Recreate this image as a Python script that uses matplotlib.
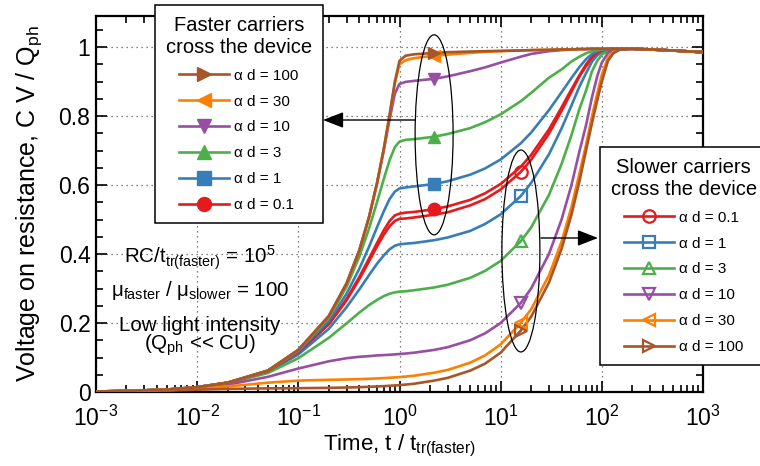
import matplotlib
matplotlib.use('Agg')
import matplotlib.pyplot as plt
from matplotlib.lines import Line2D
from matplotlib.patches import Ellipse, FancyArrowPatch
from matplotlib.ticker import MultipleLocator, FixedLocator, NullFormatter

plt.rcParams['font.family'] = ['Liberation Sans', 'DejaVu Sans']
plt.rcParams['mathtext.fontset'] = 'custom'
plt.rcParams['mathtext.rm'] = 'Liberation Sans'
plt.rcParams['mathtext.it'] = 'Liberation Sans:italic'
plt.rcParams['mathtext.bf'] = 'Liberation Sans:bold'

# ---------------- data ----------------
t = [0.001, 0.002, 0.005, 0.01, 0.02, 0.05, 0.1, 0.2, 0.3, 0.4, 0.5, 0.6, 0.7, 0.8, 0.9,
     1.0, 1.15, 1.4, 2.2, 3, 5, 7, 10, 15.8, 20, 30, 40, 50, 60, 70, 80, 90, 100, 115, 130,
     150, 200, 300, 500, 1000]

alpha_d = ['0.1', '1', '3', '10', '30', '100']

x_ticks = [1e-3, 1e-2, 1e-1, 1e0, 1e1, 1e2, 1e3]
x_ticklabels = ['10$^{-3}$', '10$^{-2}$', '10$^{-1}$', '10$^{0}$', '10$^{1}$', '10$^{2}$',
                '10$^{3}$']
y_ticks = [0, 0.2, 0.4, 0.6, 0.8, 1.0]
y_ticklabels = ['0', '0.2', '0.4', '0.6', '0.8', '1']

# faster carriers cross the device
fast_0p1 = [0.0015, 0.003, 0.007, 0.014, 0.027, 0.060, 0.115, 0.198, 0.270, 0.333, 0.387, 0.432,
            0.469, 0.496, 0.512, 0.517, 0.520, 0.522, 0.530, 0.538, 0.557, 0.576, 0.603, 0.653,
            0.687, 0.761, 0.825, 0.877, 0.918, 0.950, 0.972, 0.984, 0.990, 0.993, 0.995, 0.995,
            0.995, 0.993, 0.990, 0.985]
fast_1 = [0.0015, 0.003, 0.007, 0.014, 0.027, 0.061, 0.118, 0.206, 0.285, 0.357, 0.421, 0.478,
          0.524, 0.560, 0.581, 0.590, 0.593, 0.596, 0.603, 0.611, 0.630, 0.648, 0.674, 0.721,
          0.752, 0.817, 0.869, 0.910, 0.942, 0.965, 0.980, 0.988, 0.992, 0.994, 0.995, 0.995,
          0.995, 0.993, 0.990, 0.985]
fast_3 = [0.0015, 0.003, 0.007, 0.014, 0.027, 0.062, 0.121, 0.215, 0.305, 0.392, 0.474, 0.551,
          0.618, 0.673, 0.710, 0.726, 0.731, 0.733, 0.740, 0.748, 0.765, 0.782, 0.805, 0.843,
          0.867, 0.911, 0.935, 0.958, 0.972, 0.982, 0.988, 0.991, 0.993, 0.995, 0.995, 0.995,
          0.995, 0.993, 0.990, 0.985]
fast_10 = [0.0015, 0.003, 0.007, 0.014, 0.027, 0.062, 0.122, 0.220, 0.315, 0.410, 0.507, 0.605,
           0.702, 0.792, 0.865, 0.893, 0.899, 0.902, 0.908, 0.915, 0.930, 0.941, 0.955, 0.972,
           0.980, 0.988, 0.991, 0.993, 0.994, 0.994, 0.995, 0.995, 0.995, 0.995, 0.995, 0.995,
           0.995, 0.993, 0.990, 0.985]
fast_30 = [0.0015, 0.003, 0.007, 0.014, 0.027, 0.062, 0.122, 0.220, 0.315, 0.410, 0.507, 0.606,
           0.706, 0.805, 0.895, 0.950, 0.962, 0.968, 0.975, 0.978, 0.983, 0.986, 0.988, 0.990,
           0.991, 0.992, 0.993, 0.993, 0.994, 0.994, 0.995, 0.995, 0.995, 0.995, 0.995, 0.995,
           0.995, 0.993, 0.990, 0.985]
fast_100 = [0.0015, 0.003, 0.007, 0.014, 0.027, 0.062, 0.122, 0.220, 0.315, 0.410, 0.507, 0.606,
            0.705, 0.805, 0.900, 0.960, 0.975, 0.979, 0.983, 0.985, 0.987, 0.988, 0.989, 0.990,
            0.991, 0.992, 0.993, 0.993, 0.994, 0.994, 0.995, 0.995, 0.995, 0.995, 0.995, 0.995,
            0.995, 0.993, 0.990, 0.985]

# slower carriers cross the device
slow_0p1 = [0.0015, 0.003, 0.007, 0.014, 0.027, 0.060, 0.114, 0.196, 0.266, 0.327, 0.379, 0.422,
            0.456, 0.481, 0.496, 0.502, 0.503, 0.506, 0.514, 0.521, 0.541, 0.559, 0.587, 0.638,
            0.673, 0.749, 0.815, 0.870, 0.915, 0.945, 0.968, 0.981, 0.988, 0.993, 0.995, 0.995,
            0.995, 0.993, 0.990, 0.985]
slow_1 = [0.0015, 0.003, 0.007, 0.014, 0.026, 0.058, 0.109, 0.183, 0.246, 0.297, 0.339, 0.372,
          0.396, 0.414, 0.424, 0.428, 0.430, 0.432, 0.440, 0.448, 0.467, 0.487, 0.515, 0.568,
          0.606, 0.689, 0.764, 0.830, 0.885, 0.925, 0.958, 0.976, 0.986, 0.992, 0.994, 0.995,
          0.995, 0.993, 0.990, 0.985]
slow_3 = [0.0015, 0.003, 0.007, 0.013, 0.025, 0.055, 0.098, 0.157, 0.199, 0.230, 0.252, 0.267,
          0.278, 0.285, 0.289, 0.291, 0.292, 0.295, 0.303, 0.311, 0.331, 0.351, 0.380, 0.437,
          0.477, 0.571, 0.661, 0.744, 0.820, 0.875, 0.930, 0.960, 0.978, 0.989, 0.993, 0.995,
          0.995, 0.993, 0.990, 0.985]
slow_10 = [0.0015, 0.003, 0.0065, 0.012, 0.021, 0.044, 0.068, 0.089, 0.098, 0.102, 0.104,
           0.106, 0.107, 0.108, 0.109, 0.110, 0.1115, 0.114, 0.122, 0.130, 0.150, 0.170, 0.200,
           0.258, 0.300, 0.400, 0.500, 0.599, 0.697, 0.775, 0.855, 0.915, 0.955, 0.983, 0.991,
           0.994, 0.995, 0.993, 0.990, 0.985]
slow_30 = [0.0013, 0.0025, 0.0055, 0.0095, 0.016, 0.027, 0.033, 0.0353, 0.0363, 0.0373, 0.0383,
           0.0393, 0.0403, 0.0413, 0.0423, 0.0433, 0.0448, 0.0473, 0.056, 0.064, 0.085, 0.106,
           0.138, 0.200, 0.240, 0.338, 0.436, 0.535, 0.633, 0.718, 0.800, 0.865, 0.920, 0.970,
           0.987, 0.993, 0.995, 0.993, 0.990, 0.985]
slow_100 = [0.0012, 0.002, 0.004, 0.0065, 0.009, 0.0105, 0.011, 0.012, 0.013, 0.014, 0.015,
            0.016, 0.017, 0.018, 0.019, 0.020, 0.0215, 0.024, 0.033, 0.041, 0.062, 0.082, 0.114,
            0.178, 0.218, 0.317, 0.415, 0.513, 0.610, 0.702, 0.780, 0.845, 0.900, 0.960, 0.982,
            0.992, 0.995, 0.993, 0.990, 0.985]

fast_curves = [fast_0p1, fast_1, fast_3, fast_10, fast_30, fast_100]
slow_curves = [slow_0p1, slow_1, slow_3, slow_10, slow_30, slow_100]

fast_marker_idx = 18   # t = 2.2
slow_marker_idx = 23   # t = 15.8

# ---------------- styles ----------------
colors = ['#E41A1C', '#377EB8', '#4DAF4A', '#984EA3', '#FF7F00', '#A65628']
markers = ['o', 's', '^', 'v', '<', '>']
LW = 1.9

fig = plt.figure(figsize=(7.6, 4.66), dpi=100)
ax = fig.add_axes([96 / 760, 74 / 466, 607 / 760, 376 / 466])

for vals, c, m in zip(slow_curves, colors, markers):
    ax.plot(t, vals, color=c, lw=LW, zorder=3)
    ax.plot(t[slow_marker_idx], vals[slow_marker_idx], marker=m, ms=9, mfc='none',
            mec=c, mew=1.6, zorder=4)
for vals, c, m in zip(fast_curves, colors, markers):
    ax.plot(t, vals, color=c, lw=LW, zorder=3)
    ax.plot(t[fast_marker_idx], vals[fast_marker_idx], marker=m, ms=9, mfc=c,
            mec=c, mew=1.0, zorder=4)

ax.set_xscale('log')
ax.set_xlim(1e-3, 1e3)
ax.set_ylim(0, 1.09)
ax.set_xticks(x_ticks)
ax.set_xticklabels(x_ticklabels)
minor_x = [m * 10.0 ** e for e in range(-3, 3) for m in range(2, 10)]
ax.xaxis.set_minor_locator(FixedLocator(minor_x))
ax.xaxis.set_minor_formatter(NullFormatter())
ax.set_yticks(y_ticks)
ax.set_yticklabels(y_ticklabels)
ax.yaxis.set_minor_locator(MultipleLocator(0.05))

ax.tick_params(which='both', direction='in', top=True, right=True, labelsize=16.5, width=1.2)
ax.tick_params(which='major', length=8)
ax.tick_params(which='minor', length=5)
ax.tick_params(axis='x', pad=10)
ax.tick_params(axis='y', pad=4)
for s in ax.spines.values():
    s.set_linewidth(1.6)
ax.grid(True, which='major', linestyle=(0, (1, 3)), color='0.35', lw=0.9)

ax.set_xlabel('Time, t / t$_{\\rm tr(faster)}$', fontsize=16)
ax.set_ylabel('Voltage on resistance, C V / Q$_{\\rm ph}$', fontsize=18)
ax.xaxis.set_label_coords(0.5, -0.108)
ax.yaxis.set_label_coords(-0.085, 0.5)

# annotation texts
tx = 0.171
fs_note = 14.8
ax.text(tx, 0.356, 'RC/t$_{\\rm tr(faster)}$ = 10$^{5}$', transform=ax.transAxes,
        ha='center', va='center', fontsize=fs_note)
ax.text(tx, 0.270, 'μ$_{\\rm faster}$ / μ$_{\\rm slower}$ = 100', transform=ax.transAxes,
        ha='center', va='center', fontsize=fs_note)
ax.text(tx, 0.178, 'Low light intensity', transform=ax.transAxes,
        ha='center', va='center', fontsize=fs_note)
ax.text(tx, 0.124, '(Q$_{\\rm ph}$ << CU)', transform=ax.transAxes,
        ha='center', va='center', fontsize=fs_note)

# ellipses
ax.add_patch(Ellipse((0.557, 0.684), 0.0626, 0.532, transform=ax.transAxes,
                     fill=False, ec='black', lw=0.9, zorder=5))
ax.add_patch(Ellipse((0.700, 0.375), 0.0626, 0.537, transform=ax.transAxes,
                     fill=False, ec='black', lw=0.9, zorder=5))

# arrows (axes-fraction coordinates)
arrow_style = '-|>,head_length=0.9,head_width=0.35'
for start, end in [((0.5255, 0.7234), (0.374, 0.7234)), ((0.7331, 0.4096), (0.827, 0.4096))]:
    ax.add_patch(FancyArrowPatch(start, end, transform=ax.transAxes, arrowstyle=arrow_style,
                                 mutation_scale=14, color='black', lw=1.0, shrinkA=0,
                                 shrinkB=0, clip_on=False, zorder=6))

# legends
fast_handles = [Line2D([], [], color=c, lw=LW, marker=m, ms=10, mfc=c, mec=c)
                for c, m in zip(colors, markers)][::-1]
fast_labels = ['α d = ' + a for a in alpha_d][::-1]
slow_handles = [Line2D([], [], color=c, lw=LW, marker=m, ms=9, mfc='none', mec=c, mew=1.6)
                for c, m in zip(colors, markers)]
slow_labels = ['α d = ' + a for a in alpha_d]

leg_kw = dict(loc='upper left', bbox_transform=fig.transFigure, fontsize=11,
              title_fontsize=14.5, handlelength=3.3, handletextpad=0.3, labelspacing=0.78,
              borderaxespad=0, fancybox=False, framealpha=1, edgecolor='black',
              borderpad=0.7, numpoints=1)
leg1 = ax.legend(fast_handles, fast_labels, title='Faster carriers\ncross the device',
                 bbox_to_anchor=(155 / 760, 1 - 5 / 466), **leg_kw)
leg1.get_title().set_multialignment('center')
leg1.get_frame().set_linewidth(1.1)
leg1.set_zorder(10)
ax.add_artist(leg1)
leg2 = ax.legend(slow_handles, slow_labels, title='Slower carriers\ncross the device',
                 bbox_to_anchor=(600 / 760, 1 - 147 / 466), **leg_kw)
leg2.get_title().set_multialignment('center')
leg2.get_frame().set_linewidth(1.1)
leg2.set_zorder(10)

fig.savefig('out.png', dpi=100)
